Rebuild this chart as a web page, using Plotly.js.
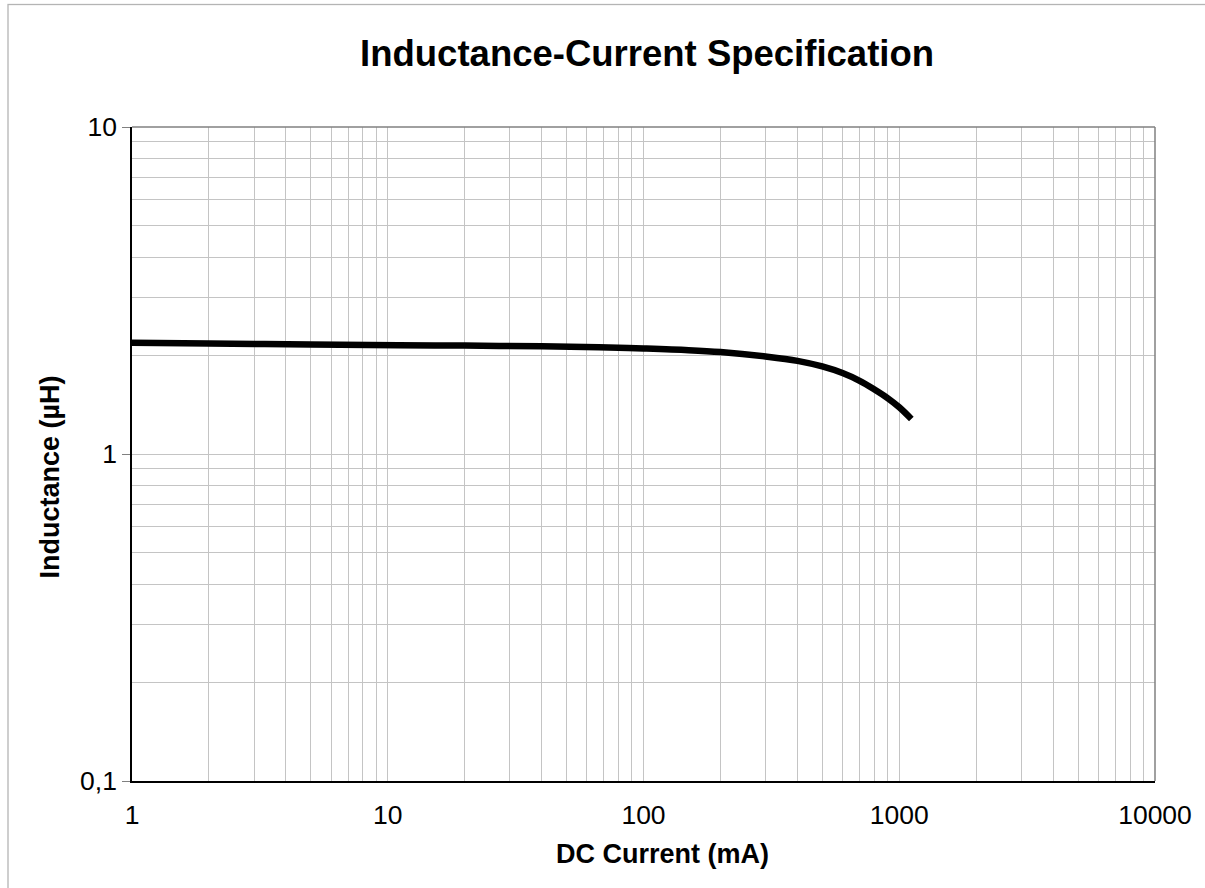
<!DOCTYPE html>
<html>
<head>
<meta charset="utf-8">
<script src="https://cdn.plot.ly/plotly-3.0.1.min.js"></script>
<style>html,body{margin:0;padding:0;background:#fff;}#chart{width:1205px;height:888px;}</style>
</head>
<body>
<div id="chart"></div>
<script>
// DC current (mA)
var currentMA = [1, 2, 5, 11, 20, 40, 67, 100, 150, 200, 300, 400, 500, 600, 700, 800, 900, 1000, 1115];
// Inductance (µH)
var inductanceUH = [2.19, 2.178, 2.163, 2.152, 2.145, 2.135, 2.122, 2.103, 2.078, 2.05, 1.987, 1.927, 1.852, 1.768, 1.674, 1.575, 1.483, 1.39, 1.28];

var xMajorVals = [1, 10, 100, 1000, 10000];
var xMajorText = ['1', '10', '100', '1000', '10000'];
var yMajorVals = [0.1, 1, 10];
var yMajorText = ['0,1', '1', '10'];
var xMinorVals = [];
[1, 10, 100, 1000].forEach(function (d) { for (var k = 2; k <= 9; k++) xMinorVals.push(d * k); });
var yMinorVals = [];
[0.1, 1].forEach(function (d) { for (var k = 2; k <= 9; k++) yMinorVals.push(d * k); });

var titleText = 'Inductance-Current Specification';
var xTitleText = 'DC Current (mA)';
var yTitleText = 'Inductance (µH)';

var font = 'Liberation Sans, Arial, sans-serif';

var trace = {
  x: currentMA,
  y: inductanceUH,
  type: 'scatter',
  mode: 'lines',
  line: {color: '#000000', width: 6.5, shape: 'spline', smoothing: 1},
  hoverinfo: 'x+y'
};

var layout = {
  width: 1205,
  height: 888,
  margin: {l: 132, r: 50, t: 127, b: 107},
  paper_bgcolor: '#ffffff',
  plot_bgcolor: '#ffffff',
  showlegend: false,
  title: {
    text: '<b>' + titleText + '</b>',
    font: {family: font, size: 36.5, color: '#000'},
    x: 0.537, xanchor: 'center', y: 0.94, yanchor: 'middle'
  },
  xaxis: {
    type: 'log',
    range: [0, 4],
    tickmode: 'array',
    tickvals: xMajorVals,
    ticktext: xMajorText,
    ticks: 'outside', ticklen: 9, tickcolor: 'rgba(0,0,0,0)',
    tickfont: {family: font, size: 26.5, color: '#000'},
    showgrid: true, gridcolor: '#c4c4c4', gridwidth: 1.3,
    minor: {tickmode: 'array', tickvals: xMinorVals, showgrid: true, gridcolor: '#c4c4c4', gridwidth: 1.3, ticks: ''},
    showline: true, linecolor: '#000', linewidth: 1.5,
    zeroline: false
  },
  yaxis: {
    type: 'log',
    range: [-1, 1],
    tickmode: 'array',
    tickvals: yMajorVals,
    ticktext: yMajorText,
    ticks: 'outside', ticklen: 8, tickcolor: '#808080', tickwidth: 1.3,
    tickfont: {family: font, size: 26.5, color: '#000'},
    showgrid: true, gridcolor: '#c4c4c4', gridwidth: 1.3,
    minor: {tickmode: 'array', tickvals: yMinorVals, showgrid: true, gridcolor: '#c4c4c4', gridwidth: 1.3, ticks: ''},
    showline: true, linecolor: '#000', linewidth: 1.5,
    zeroline: false
  },
  annotations: [
    {text: '<b>' + xTitleText + '</b>', xref: 'paper', yref: 'paper', x: 0.519, y: -0.112,
     xanchor: 'center', yanchor: 'middle', showarrow: false, font: {family: font, size: 27, color: '#000'}},
    {text: '<b>' + yTitleText + '</b>', xref: 'paper', yref: 'paper', x: -0.0792, y: 0.4656, textangle: -90,
     xanchor: 'center', yanchor: 'middle', showarrow: false, font: {family: font, size: 27, color: '#000'}}
  ],
  shapes: [
    {type: 'line', xref: 'paper', yref: 'paper', x0: 0, x1: 1, y0: 1, y1: 1, line: {color: '#808080', width: 1.5}},
    {type: 'line', xref: 'paper', yref: 'paper', x0: 1, x1: 1, y0: 0, y1: 1, line: {color: '#808080', width: 1.5}}
  ]
};

Plotly.newPlot('chart', [trace], layout, {displayModeBar: false}).then(function () {
  // outer chart frame (Excel-style chart area border)
  var svg = document.querySelector('#chart .main-svg');
  var ns = 'http://www.w3.org/2000/svg';
  var r = document.createElementNS(ns, 'rect');
  r.setAttribute('x', 8); r.setAttribute('y', 4.5);
  r.setAttribute('width', 1300); r.setAttribute('height', 1000);
  r.setAttribute('fill', 'none'); r.setAttribute('stroke', '#b4b4b4'); r.setAttribute('stroke-width', 1.3);
  svg.appendChild(r);
});
</script>
</body>
</html>
